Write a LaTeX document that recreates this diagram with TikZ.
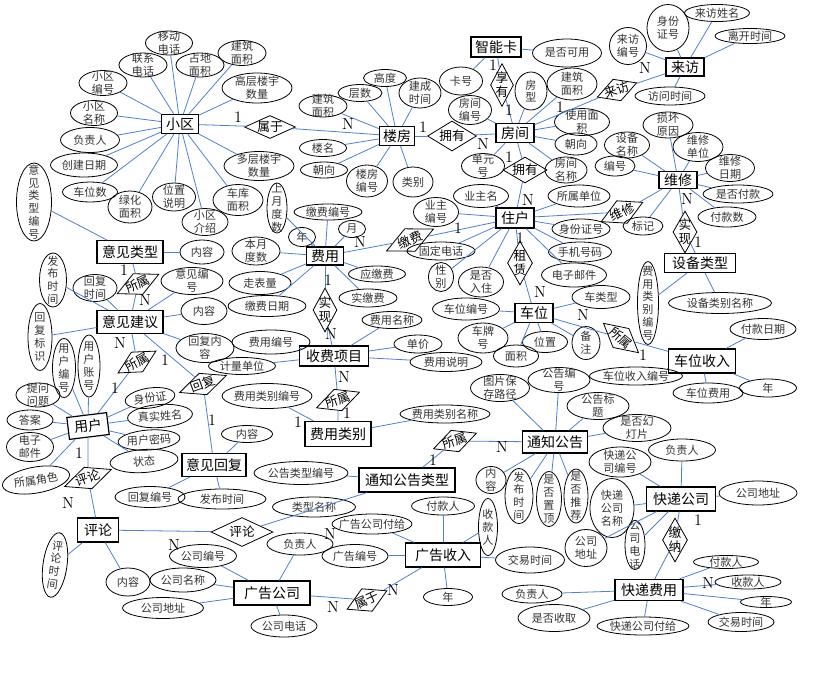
\documentclass[tikz,border=0pt]{standalone}
\usepackage{fontspec}
\newfontfamily\cjk{Noto Sans CJK SC}
\usetikzlibrary{shapes.geometric}
\definecolor{conblue}{RGB}{79,129,208}
\tikzset{
  ent/.style={draw,rectangle,line width=0.9pt,inner sep=0pt,font=\cjk\fontsize{10.5}{12}\selectfont},
  att/.style={draw,ellipse,line width=0.6pt,inner sep=0pt},
  rel/.style={draw,diamond,line width=0.6pt,inner sep=0pt},
  lbl/.style={font=\cjk\fontsize{8.3}{9.6}\selectfont,align=center,inner sep=0pt,text=black!80},
  rtxt/.style={font=\cjk\fontsize{9.5}{10.5}\selectfont,align=center,inner sep=0pt},
  card/.style={font=\fontsize{12}{12}\selectfont,inner sep=0pt},
  con/.style={draw=conblue,line width=0.6pt},
}
\newcommand\En[5]{\node[ent,minimum width={#3*0.75pt},minimum height={#4*0.75pt}] (#1) at (#2) {#5};}
\newcommand\At[5]{\node[att,minimum width={#3*0.75pt},minimum height={#4*0.75pt},label={[lbl]center:#5}] (#1) at (#2) {};}
\newcommand\Ar[6]{\node[att,minimum width={#3*0.75pt},minimum height={#4*0.75pt},rotate=#5] (#1) at (#2) {};\node[lbl,rotate=#5] (#1t) at (#2) {#6};}
\newcommand\Rl[6]{\node[rel,minimum width={#3*0.75pt},minimum height={#4*0.75pt},rotate=#5] (#1) at (#2) {};\node[rtxt,rotate=#5] (#1t) at (#2) {#6};}
\newcommand\Cd[3]{\node[card] (#1) at (#2) {#3};}
\newcommand\Ln[2]{\draw[con] (#1) -- (#2);}
\begin{document}
\begin{tikzpicture}[x=0.75pt,y=-0.75pt]
\useasboundingbox (0,0) rectangle (822,672);
\fill[white] (0,0) rectangle (822,672);
% ---------- entities
\En{xq}{180,124}{37}{19}{小区}
\En{lf}{397,136}{35}{19}{楼房}
\En{fj}{515,133}{38}{19}{房间}
\En{znk}{496,47}{50}{20}{智能卡}
\En{lv}{685,67}{38}{18}{来访}
\En{wx}{678,180}{38}{17}{维修}
\En{zh}{515,218}{38}{20}{住户}
\En{sblx}{700,263}{71}{19}{设备类型}
\En{cw}{534,313}{38}{19}{车位}
\En{cwsr}{702,361}{67}{24}{车位收入}
\En{fy}{325,256}{37}{18}{费用}
\En{sfxm}{334,356}{69}{20}{收费项目}
\En{fylb}{338,434}{66}{25}{费用类别}
\En{yjlx}{130,252}{66}{23}{意见类型}
\En{yjjy}{130,322}{66}{23}{意见建议}
\node[ent,minimum width={40*0.75pt},minimum height={22*0.75pt},rotate=7] (yh) at (88,426) {用户};
\En{yjhf}{214,465}{64}{23}{意见回复}
\En{pl}{98,530}{41}{24}{评论}
\En{tzgglx}{407,480}{96}{24}{通知公告类型}
\En{tzgg}{555,442}{65}{22}{通知公告}
\En{gggs}{272,593}{76}{24}{广告公司}
\En{ggsr}{443,555}{75}{24}{广告收入}
\En{kdgs}{681,499}{69}{24}{快递公司}
\En{kdfy}{649,590}{68}{21}{快递费用}
% ---------- relationships
\Rl{r1}{270,127}{51}{23}{0}{属于}
\Rl{r2}{452,136}{49}{30}{0}{拥有}
\Rl{r3}{502,85}{23}{43}{0}{享\\有}
\Rl{r4}{525,170}{44}{26}{0}{拥有}
\Rl{r5}{617,90}{42}{23}{20}{来访}
\Rl{r6}{622,212}{46}{25}{25}{维修}
\Rl{r7}{685,232}{24}{42}{0}{实\\现}
\Rl{r8}{410,240}{52}{25}{25}{缴费}
\Rl{r9}{520,263}{25}{44}{0}{租\\赁}
\Rl{r10}{621,338}{46}{25}{-40}{所属}
\Rl{r11}{325,310}{24}{44}{0}{实\\现}
\Rl{r12}{338,400}{46}{23}{20}{所属}
\Rl{r13}{138,284}{46}{23}{25}{所属}
\Rl{r14}{137,362}{44}{23}{30}{所属}
\Rl{r15}{203,384}{50}{23}{20}{回复}
\Rl{r16}{88,478}{50}{23}{20}{评论}
\Rl{r17}{242,532}{62}{29}{0}{评论}
\Rl{r18}{455,441}{46}{23}{20}{所属}
\Rl{r19}{367,600}{44}{25}{25}{属于}
\Rl{r20}{675,540}{25}{44}{0}{缴\\纳}
% ---------- attributes: 小区
\At{a1}{169,43}{47}{24}{移动\\电话}
\At{a2}{143,65}{48}{24}{联系\\电话}
\At{a3}{200,65}{48}{24}{占地\\面积}
\At{a4}{103,83}{48}{25}{小区\\编号}
\At{a5}{94,113}{47}{25}{小区\\名称}
\At{a6}{90,140}{59}{25}{负责人}
\At{a7}{84,165}{67}{24}{创建日期}
\At{a8}{90,192}{55}{20}{车位数}
\At{a9}{130,207}{44}{32}{绿化\\面积}
\At{a10}{174,197}{43}{28}{位置\\说明}
\At{a11}{205,222}{46}{27}{小区\\介绍}
\At{a12}{242,53}{48}{25}{建筑\\面积}
\At{a13}{257,88}{70}{30}{高层楼宇\\数量}
\At{a14}{259,166}{70}{29}{多层楼宇\\数量}
\At{a15}{238,200}{50}{31}{车库\\面积}
% 楼房
\At{b1}{360,93}{44}{17}{层数}
\At{b2}{385,78}{43}{17}{高度}
\At{b3}{323,106}{48}{22}{建筑\\面积}
\At{b4}{323,148}{47}{17}{楼名}
\At{b5}{324,170}{47}{16}{朝向}
\At{b6}{367,181}{41}{32}{楼房\\编号}
\At{b7}{413,182}{40}{30}{类别}
\At{b8}{420,93}{42}{30}{建成\\时间}
% 智能卡 / 房间
\At{c1}{461,81}{43}{28}{卡号}
\At{c2}{567,53}{69}{28}{是否可用}
\At{d1}{470,110}{43}{29}{房间\\编号}
\At{d2}{531,91}{32}{38}{房\\型}
\At{d3}{572,84}{50}{32}{建筑\\面积}
\At{d4}{582,122}{55}{27}{使用面\\积}
\At{d5}{576,144}{42}{22}{朝向}
\At{d6}{566,170}{42}{26}{房间\\名称}
\At{d7}{483,166}{43}{25}{单元\\号}
% 来访
\At{e1}{628,46}{37}{37}{来访\\编号}
\At{e2}{668,28}{42}{47}{身份\\证号}
\At{e3}{717,13}{65}{17}{来访姓名}
\At{e4}{750,36}{70}{15}{离开时间}
\At{e5}{670,96}{70}{18}{访问时间}
% 维修
\At{f1}{668,125}{50}{26}{损坏\\原因}
\At{f2}{698,147}{50}{29}{维修\\单位}
\At{f3}{730,168}{49}{27}{维修\\日期}
\At{f4}{738,194}{70}{18}{是否付款}
\At{f5}{727,217}{58}{20}{付款数}
\At{f6}{627,145}{45}{26}{设备\\名称}
\At{f7}{615,166}{40}{20}{编号}
\At{f8}{643,226}{40}{18}{标记}
% 住户
\At{g1}{481,196}{55}{23}{业主名}
\At{g2}{436,212}{45}{29}{业主\\编号}
\At{g3}{579,196}{62}{22}{所属单位}
\At{g4}{581,229}{58}{20}{身份证号}
\At{g5}{580,252}{63}{20}{手机号码}
\At{g6}{574,275}{65}{24}{电子邮件}
\At{g7}{441,251}{68}{18}{固定电话}
\At{g8}{441,277}{25}{29}{性\\别}
\At{g9}{481,282}{45}{30}{是否\\入住}
% 设备类型
\At{h1}{720,303}{103}{21}{设备类别名称}
\At{h2}{648,303}{21}{83}{费\\用\\类\\别\\编\\号}
% 车位
\At{i1}{601,297}{58}{23}{车类型}
\At{i2}{586,343}{28}{33}{备\\注}
\At{i3}{466,309}{67}{22}{车位编号}
\At{i4}{483,338}{50}{30}{车牌\\号}
\At{i5}{545,342}{45}{21}{位置}
\At{i6}{516,356}{45}{22}{面积}
% 车位收入
\At{j1}{763,329}{66}{21}{付款日期}
\At{j2}{636,376}{93}{18}{车位收入编号}
\At{j3}{708,393}{70}{20}{车位费用}
\At{j4}{768,388}{57}{18}{年}
% 费用
\At{k1}{328,212}{68}{16}{缴费编号}
\At{k2}{277,208}{20}{50}{上\\月\\度\\数}
\At{k3}{352,229}{27}{17}{月}
\At{k4}{302,237}{27}{19}{年}
\At{k5}{256,251}{48}{28}{本月\\度数}
\At{k6}{260,283}{62}{23}{走表量}
\At{k7}{267,306}{78}{21}{缴费日期}
\At{k8}{377,274}{57}{16}{应缴费}
\At{k9}{368,298}{58}{18}{实缴费}
% 收费项目
\At{l1}{271,342}{78}{24}{费用编号}
\At{l2}{242,366}{67}{17}{计量单位}
\At{l3}{392,320}{60}{17}{费用名称}
\At{l4}{418,344}{48}{18}{单价}
\At{l5}{446,362}{72}{19}{费用说明}
% 费用类别
\At{m1}{267,396}{90}{25}{费用类别编号}
\At{m2}{445,414}{90}{18}{费用类别名称}
% 意见类型 / 意见建议
\At{n1}{34,202}{35}{78}{意\\见\\类\\型\\编\\号}
\At{n2}{202,252}{44}{24}{内容}
\At{n3}{192,281}{62}{27}{意见编\\号}
\At{n4}{53,280}{27}{54}{发\\布\\时\\间}
\At{n5}{95,288}{44}{27}{回复\\时间}
\At{n6}{204,311}{46}{27}{内容}
\At{n7}{40,337}{24}{67}{回\\复\\标\\识}
\At{n8}{205,348}{58}{29}{回复内\\容}
% 用户
\At{o1}{64,368}{23}{59}{用\\户\\编\\号}
\At{o2}{89,366}{22}{62}{用\\户\\账\\号}
\At{o3}{38,395}{44}{24}{提问\\问题}
\At{o4}{30,420}{46}{20}{答案}
\At{o5}{30,447}{47}{29}{电子\\邮件}
\Ar{o6}{36,480}{68}{26}{10}{所属角色}
\Ar{o7}{150,398}{50}{20}{8}{身份证}
\Ar{o8}{160,416}{65}{23}{4}{真实姓名}
\Ar{o9}{149,440}{62}{20}{4}{用户密码}
\Ar{o10}{144,461}{68}{23}{4}{状态}
% 意见回复
\At{p1}{150,497}{70}{21}{回复编号}
\At{p2}{222,499}{88}{20}{发布时间}
\At{p3}{247,434}{51}{17}{内容}
% 评论
\Ar{q1}{55,565}{24}{65}{-8}{评\\论\\时\\间}
\At{q2}{128,582}{44}{28}{内容}
% 通知公告类型 / 通知公告
\At{s1}{301,473}{94}{23}{公告类型编号}
\At{s2}{314,507}{83}{20}{类型名称}
\At{t1}{500,388}{59}{27}{图片保\\存路径}
\At{t2}{559,380}{62}{25}{公告编\\号}
\At{t3}{598,406}{62}{27}{公告标\\题}
\At{t4}{637,428}{68}{27}{是否幻\\灯片}
\At{t5}{491,480}{30}{27}{内\\容}
\At{t6}{519,496}{28}{55}{发\\布\\时\\间}
\At{t7}{549,499}{25}{55}{是\\否\\置\\顶}
\At{t8}{576,496}{24}{54}{是\\否\\推\\荐}
% 广告公司 / 广告收入
\At{u1}{203,556}{67}{23}{公司编号}
\At{u2}{183,580}{66}{24}{公司名称}
\At{u3}{163,608}{81}{21}{公司地址}
\At{u4}{300,544}{66}{22}{负责人}
\At{u5}{284,626}{66}{22}{公司电话}
\At{v1}{372,524}{80}{20}{广告公司付给}
\At{v2}{355,556}{66}{23}{广告编号}
\At{v3}{443,506}{63}{18}{付款人}
\At{v4}{488,527}{19}{57}{收\\款\\人}
\At{v5}{530,560}{69}{26}{交易时间}
\At{v6}{448,597}{49}{17}{年}
% 快递公司 / 快递费用
\At{w1}{682,450}{67}{22}{负责人}
\At{w2}{620,462}{62}{30}{快递公\\司编号}
\At{w3}{612,508}{44}{59}{快递\\公司\\名称}
\At{w4}{586,548}{42}{37}{公司\\地址}
\At{w5}{635,545}{20}{49}{公\\司\\电\\话}
\At{w6}{758,493}{78}{24}{公司地址}
\At{x1}{726,562}{65}{13}{付款人}
\At{x2}{748,582}{66}{14}{收款人}
\At{x3}{766,602}{51}{11}{年}
\At{x4}{741,622}{66}{19}{交易时间}
\At{x5}{643,626}{92}{18}{快递公司付给}
\At{x6}{532,594}{60}{18}{负责人}
\At{x7}{554,618}{72}{27}{是否收取}
% ---------- connectors
\foreach \t in {a1,a2,a3,a4,a5,a6,a7,a8,a9,a10,a11,a12,a13,a14,a15,r1}{\Ln{xq}{\t}}
\Ln{r1}{lf}
\foreach \t in {b1,b2,b3,b4,b5,b6,b7,b8,r2}{\Ln{lf}{\t}}
\Ln{r2}{fj}
\foreach \t in {d1,d2,d3,d4,d5,d6,d7,r3,r4,r5}{\Ln{fj}{\t}}
\Ln{r3}{znk}
\Ln{znk}{c1}\Ln{znk}{c2}
\Ln{r5}{lv}
\foreach \t in {e1,e2,e3,e4,e5}{\Ln{lv}{\t}}
\Ln{r4}{zh}
\foreach \t in {g1,g2,g3,g4,g5,g6,g7,g8,g9,r6,r8,r9}{\Ln{zh}{\t}}
\Ln{r6}{wx}
\foreach \t in {f1,f2,f3,f4,f5,f6,f7,f8,r7}{\Ln{wx}{\t}}
\Ln{r7}{sblx}
\Ln{sblx}{h1}\Ln{sblx}{h2}
\Ln{r9}{cw}
\foreach \t in {i1,i2,i3,i4,i5,i6,r10}{\Ln{cw}{\t}}
\Ln{r10}{cwsr}
\foreach \t in {j1,j2,j3,j4}{\Ln{cwsr}{\t}}
\Ln{r8}{fy}
\foreach \t in {k1,k2,k3,k4,k5,k6,k7,k8,k9,r11}{\Ln{fy}{\t}}
\Ln{r11}{sfxm}
\foreach \t in {l1,l2,l3,l4,l5,r12}{\Ln{sfxm}{\t}}
\Ln{r12}{fylb}
\Ln{fylb}{m1}\Ln{fylb}{m2}
\Ln{yjlx}{n1}\Ln{yjlx}{n2}\Ln{yjlx}{r13}
\Ln{r13}{yjjy}
\foreach \t in {n3,n4,n5,n6,n7,n8,r14,r15}{\Ln{yjjy}{\t}}
\Ln{r14}{yh}
\foreach \t in {o1,o2,o3,o4,o5,o6,o7,o8,o9,o10,r16}{\Ln{yh}{\t}}
\Ln{r15}{yjhf}
\Ln{yjhf}{p1}\Ln{yjhf}{p2}\Ln{yjhf}{p3}
\Ln{r16}{pl}
\Ln{pl}{q1}\Ln{pl}{q2}\Ln{pl}{r17}
\Ln{r17}{tzgglx}
\Ln{tzgglx}{s1}\Ln{tzgglx}{r18}
\Ln{r18}{tzgg}
\foreach \t in {t1,t2,t3,t4,t5,t6,t7,t8}{\Ln{tzgg}{\t}}
\foreach \t in {u1,u2,u3,u4,u5,r19}{\Ln{gggs}{\t}}
\Ln{r19}{ggsr}
\foreach \t in {v1,v2,v3,v4,v5,v6}{\Ln{ggsr}{\t}}
\foreach \t in {w1,w2,w3,w4,w5,w6,r20}{\Ln{kdgs}{\t}}
\Ln{r20}{kdfy}
\foreach \t in {x1,x2,x3,x4,x5,x6,x7}{\Ln{kdfy}{\t}}
% ---------- cardinalities
\Cd{c01}{238,117}{1}\Cd{c02}{348,124}{N}
\Cd{c03}{423,127}{1}\Cd{c04}{483,144}{N}
\Cd{c05}{493,65}{1}\Cd{c06}{509,110}{1}
\Cd{c07}{560,107}{1}\Cd{c08}{645,68}{N}
\Cd{c09}{509,157}{1}\Cd{c10}{528,200}{N}
\Cd{c11}{687,199}{N}\Cd{c12}{698,242}{1}
\Cd{c13}{360,242}{N}\Cd{c14}{458,228}{1}
\Cd{c15}{520,238}{1}\Cd{c16}{540,292}{N}
\Cd{c17}{583,315}{N}\Cd{c18}{643,355}{1}
\Cd{c19}{328,280}{1}\Cd{c20}{331,334}{N}
\Cd{c21}{344,377}{N}\Cd{c22}{347,413}{1}
\Cd{c23}{298,422}{1}
\Cd{c24}{124,270}{1}\Cd{c25}{145,300}{N}
\Cd{c26}{120,343}{N}\Cd{c27}{115,388}{1}
\Cd{c28}{165,360}{1}\Cd{c29}{212,420}{1}
\Cd{c30}{79,453}{1}\Cd{c31}{68,503}{N}
\Cd{c32}{174,545}{N}\Cd{c33}{330,534}{N}
\Cd{c34}{433,460}{1}\Cd{c35}{502,447}{N}
\Cd{c36}{333,607}{N}\Cd{c37}{393,590}{N}
\Cd{c38}{698,520}{1}\Cd{c39}{708,583}{N}
\end{tikzpicture}
\end{document}
